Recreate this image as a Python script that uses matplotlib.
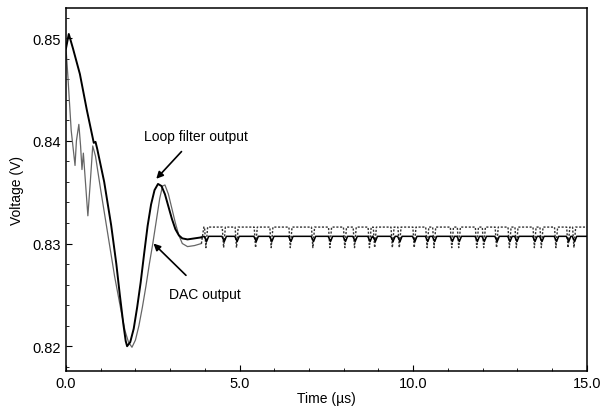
import matplotlib
matplotlib.use("Agg")
import matplotlib.pyplot as plt
from matplotlib.ticker import MultipleLocator

plt.rcParams['font.family'] = ['Liberation Sans', 'DejaVu Sans']

# Loop filter output, transient part (time in us, voltage in V)
loop_t = [0.0, 0.08, 0.2, 0.4, 0.6, 0.8, 0.85, 0.9, 1.1, 1.3, 1.45, 1.55, 1.65,
          1.72, 1.76, 1.85, 1.95, 2.05, 2.15, 2.25, 2.35, 2.45, 2.55, 2.65, 2.75,
          2.85, 2.95, 3.05, 3.15, 3.25, 3.35, 3.5, 3.9]
loop_v = [0.8490, 0.8504, 0.8490, 0.8465, 0.8430, 0.8398, 0.8399, 0.8392, 0.8360,
          0.8318, 0.8280, 0.8250, 0.8222, 0.8205, 0.8200, 0.8204, 0.8217, 0.8238,
          0.8262, 0.8290, 0.8317, 0.8338, 0.8352, 0.8358, 0.8356, 0.8348, 0.8336,
          0.8324, 0.8314, 0.8308, 0.8305, 0.8304, 0.8306]

# DAC output, transient part
dac_t = [0.0, 0.05, 0.15, 0.26, 0.3, 0.37, 0.42, 0.46, 0.5, 0.63, 0.7, 0.77, 0.85,
         1.0, 1.2, 1.4, 1.6, 1.7, 1.8, 1.9, 2.0, 2.1, 2.2, 2.3, 2.4, 2.5, 2.6,
         2.7, 2.78, 2.85, 2.95, 3.05, 3.15, 3.25, 3.35, 3.5, 3.7, 3.9]
dac_v = [0.8490, 0.8465, 0.8410, 0.8376, 0.8400, 0.8416, 0.8395, 0.8372, 0.8388,
         0.8327, 0.8360, 0.8395, 0.8385, 0.8352, 0.8310, 0.8268, 0.8232, 0.8215,
         0.8204, 0.8199, 0.8206, 0.8220, 0.8238, 0.8258, 0.8280, 0.8300, 0.8322,
         0.8344, 0.8356, 0.8357, 0.8348, 0.8334, 0.8320, 0.8308, 0.8300, 0.8297,
         0.8298, 0.8300]

# settled region: levels and the times of the downward glitches
dac_hi = 0.8316
dac_lo = 0.8296
loop_level = 0.8307
loop_dip = 0.8302
spike_t = [4.03, 4.54, 4.91, 5.46, 5.91, 6.46, 7.11, 7.6, 8.03, 8.31, 8.74, 8.89,
           9.4, 9.6, 10.03, 10.4, 10.6, 11.11, 11.31, 11.83, 12.03, 12.4, 12.77,
           12.97, 13.49, 13.69, 14.11, 14.46, 14.63]

# build settled polylines from the glitch times
dac_ss_t, dac_ss_v = [dac_t[-1], 3.97], [dac_v[-1], dac_hi]
loop_ss_t, loop_ss_v = [loop_t[-1]], [loop_v[-1]]
for s in spike_t:
    dac_ss_t += [s - 0.04, s, s + 0.05]
    dac_ss_v += [dac_hi, dac_lo, dac_hi]
    loop_ss_t += [s - 0.05, s + 0.02, s + 0.08]
    loop_ss_v += [loop_level, loop_dip, loop_level]
dac_ss_t.append(15.0)
dac_ss_v.append(dac_hi)
loop_ss_t.append(15.0)
loop_ss_v.append(loop_level)

fig = plt.figure(figsize=(6.0, 4.14), dpi=100)
ax = fig.add_axes([0.11, 0.101, 0.868, 0.877])

ax.plot(dac_t, dac_v, color='#666666', lw=0.9)
ax.plot(dac_ss_t, dac_ss_v, color='#333333', lw=1.0, ls=(0, (1.5, 1.2)))
ax.plot(loop_t, loop_v, color='black', lw=1.4)
ax.plot(loop_ss_t, loop_ss_v, color='black', lw=1.1)

ax.set_xlim(0, 15)
ax.set_ylim(0.81757, 0.85292)
ax.xaxis.set_major_locator(MultipleLocator(5))
ax.xaxis.set_minor_locator(MultipleLocator(1))
ax.yaxis.set_major_locator(MultipleLocator(0.01))
ax.yaxis.set_minor_locator(MultipleLocator(0.002))
ax.set_xticklabels([f'{v:.1f}' for v in ax.get_xticks()])
ax.set_yticklabels([f'{v:.2f}' for v in ax.get_yticks()])
ax.tick_params(which='both', direction='in', labelsize=10.5, top=False, right=False)
ax.tick_params(which='major', length=4)
ax.tick_params(which='minor', length=2)
for sp in ax.spines.values():
    sp.set_linewidth(1.1)

ax.set_xlabel('Time (\u00b5s)', fontsize=10, labelpad=1)
ax.set_ylabel('Voltage (V)', fontsize=10, labelpad=6)

ax.annotate('Loop filter output', xy=(2.6, 0.8363), xytext=(3.75, 0.8405),
            fontsize=10, ha='center', va='center',
            arrowprops=dict(arrowstyle='-|>', color='black', lw=1.2,
                            mutation_scale=10, shrinkA=6, shrinkB=0))
ax.annotate('DAC output', xy=(2.52, 0.8300), xytext=(4.0, 0.8251),
            fontsize=10, ha='center', va='center',
            arrowprops=dict(arrowstyle='-|>', color='black', lw=1.2,
                            mutation_scale=10, shrinkA=9, shrinkB=0))

fig.savefig('out.png', dpi=100)
